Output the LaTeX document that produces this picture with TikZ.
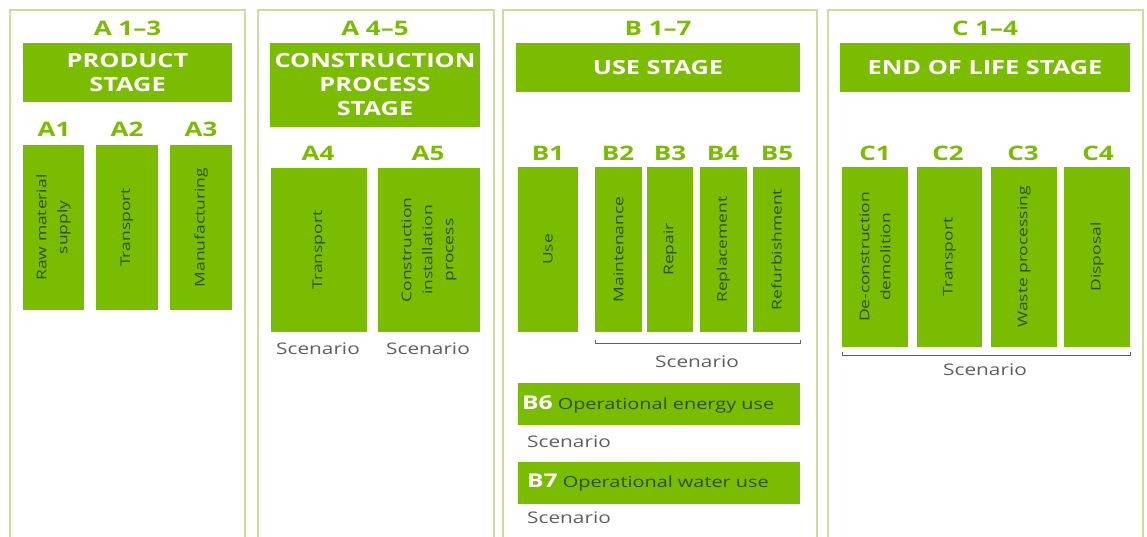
\documentclass[tikz,border=0pt]{standalone}
\usepackage{fontspec}
\setmainfont{Open Sans}
\newfontfamily\lcafont[FakeStretch=1.3]{Open Sans}
\usetikzlibrary{positioning,calc}

\definecolor{lcagreen}{RGB}{122,188,0}
\definecolor{lcaframe}{RGB}{205,220,160}
\definecolor{lcadark}{RGB}{45,80,15}
\definecolor{lcagrey}{RGB}{95,95,95}

\tikzset{
  panel/.style={draw=lcaframe, line width=1.3pt},
  module/.style={text=lcagreen, inner sep=0, font=\lcafont\bfseries\fontsize{20}{20}\selectfont},
  stagebar/.style={fill=lcagreen, text=white, align=center, inner sep=0, font=\lcafont\bfseries\fontsize{19.5}{24}\selectfont},
  code/.style={text=lcagreen, inner sep=0, font=\lcafont\bfseries\fontsize{20}{20}\selectfont},
  procbox/.style={fill=lcagreen, text=lcadark, rotate=90, align=center, inner sep=0, font=\lcafont\fontsize{13.4}{21}\selectfont},
  usebar/.style={fill=lcagreen, text=lcadark, align=left, inner sep=0, minimum width=282, minimum height=42, text width=274, font=\lcafont\fontsize{15.3}{17}\selectfont},
  scen/.style={text=lcagrey, inner sep=0, font=\lcafont\fontsize{16}{16}\selectfont},
  scenline/.style={draw=lcagrey, line width=0.8pt}
}

\begin{document}
\begin{tikzpicture}[x=1pt,y=-1pt]
\useasboundingbox (0,0) rectangle (1147,536);
\clip (0,0) rectangle (1147,536);

% frames
\draw[panel] (10,10) rectangle (245,560);
\draw[panel] (258,10) rectangle (494,560);
\draw[panel] (503,10) rectangle (817,560);
\draw[panel] (828,10) rectangle (1143,560);

% A 1-3
\node[module] (hA) at (127.5,28) {A 1–3};
\node[stagebar, minimum width=209, minimum height=59] (product) at (127.5,72.5) {PRODUCT\\STAGE};
\node[code] (cA1) at (54,129) {A1};
\node[code] (cA2) at (127,129) {A2};
\node[code] (cA3) at (201,129) {A3};
\node[procbox, minimum width=165, minimum height=61] (A1) at (53.5,227.5) {Raw material\\supply};
\node[procbox, minimum width=165, minimum height=62] (A2) at (127,227.5) {Transport};
\node[procbox, minimum width=165, minimum height=62] (A3) at (201,227.5) {Manufacturing};

% A 4-5
\node[module] (hA45) at (375,28) {A 4–5};
\node[stagebar, minimum width=210, minimum height=84] (constr) at (375,85) {CONSTRUCTION\\PROCESS\\STAGE};
\node[code] (cA4) at (318,153) {A4};
\node[code] (cA5) at (428,153) {A5};
\node[procbox, minimum width=164, minimum height=96] (A4) at (319,250) {Transport};
\node[procbox, minimum width=164, minimum height=102] (A5) at (429,250) {Construction\\installation\\process};
\node[scen] (sA4) at (318,349) {Scenario};
\node[scen] (sA5) at (428,349) {Scenario};

% B 1-7
\node[module] (hB) at (658,28) {B 1–7};
\node[stagebar, minimum width=284, minimum height=49] (use) at (658,67.5) {USE STAGE};
\node[code] (cB1) at (548,153) {B1};
\node[code] (cB2) at (618,153) {B2};
\node[code] (cB3) at (670,153) {B3};
\node[code] (cB4) at (723,153) {B4};
\node[code] (cB5) at (777,153) {B5};
\node[procbox, minimum width=165, minimum height=60] (B1) at (548,249.5) {Use};
\node[procbox, minimum width=165, minimum height=47] (B2) at (618.5,249.5) {Maintenance};
\node[procbox, minimum width=165, minimum height=46] (B3) at (670,249.5) {Repair};
\node[procbox, minimum width=165, minimum height=47] (B4) at (723.5,249.5) {Replacement};
\node[procbox, minimum width=165, minimum height=47] (B5) at (776.5,249.5) {Refurbishment};
\coordinate (bL) at (595,343);
\coordinate (bR) at (800,343);
\draw[scenline] (bL) ++(0,-3) -- (bL) -- (bR) -- ++(0,-3);
\node[scen] (sB) at (697,362) {Scenario};
\node[usebar] (B6) at (659,404) {{\color{white}\bfseries\fontsize{19}{19}\selectfont B6} Operational energy use};
\node[scen, anchor=west] (sB6) at (527,442) {Scenario};
\node[usebar] (B7) at (659,482.5) {{\color{white}\bfseries\fontsize{19}{19}\selectfont\ B7} Operational water use};
\node[scen, anchor=west] (sB7) at (527,518) {Scenario};

% C 1-4
\node[module] (hC) at (985,28) {C 1–4};
\node[stagebar, minimum width=290, minimum height=49] (eol) at (985,67.5) {END OF LIFE STAGE};
\node[code] (cC1) at (875,153) {C1};
\node[code] (cC2) at (948,153) {C2};
\node[code] (cC3) at (1023,153) {C3};
\node[code] (cC4) at (1098,153) {C4};
\node[procbox, minimum width=180, minimum height=66] (C1) at (875,257) {De-construction\\demolition};
\node[procbox, minimum width=180, minimum height=65] (C2) at (949.5,257) {Transport};
\node[procbox, minimum width=180, minimum height=66] (C3) at (1024,257) {Waste processing};
\node[procbox, minimum width=180, minimum height=66] (C4) at (1097,257) {Disposal};
\coordinate (cL) at (842,355);
\coordinate (cR) at (1130,355);
\draw[scenline] (cL) ++(0,-3) -- (cL) -- (cR) -- ++(0,-3);
\node[scen] (sC) at (985,370) {Scenario};
\end{tikzpicture}
\end{document}
